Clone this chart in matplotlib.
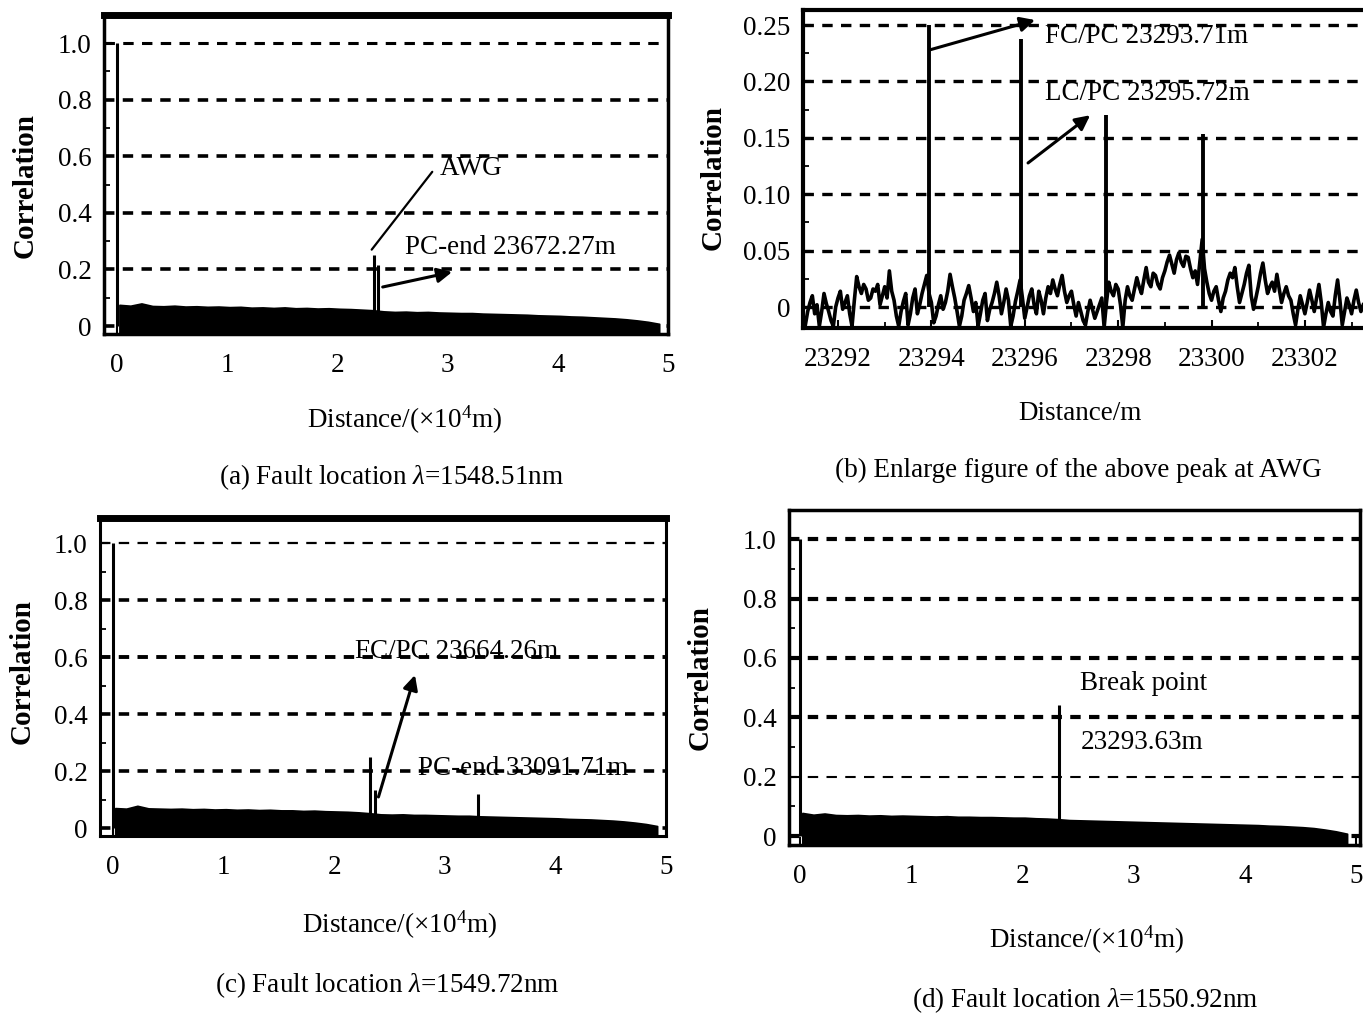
import numpy as np
import matplotlib
matplotlib.use("Agg")
import matplotlib.pyplot as plt
from matplotlib.ticker import FixedLocator, MultipleLocator, FuncFormatter

plt.rcParams['font.family'] = ['Liberation Serif', 'DejaVu Serif']
plt.rcParams['mathtext.fontset'] = 'custom'
plt.rcParams['mathtext.rm'] = 'Liberation Serif'
plt.rcParams['mathtext.it'] = 'Liberation Serif:italic'
plt.rcParams['lines.scale_dashes'] = False

# ---------------- data ----------------
# noise-floor envelope positions (x 10^4 m) for panels a, c, d
floor_x = [0.02, 0.12, 0.22, 0.32, 0.42, 0.52, 0.62, 0.72, 0.82, 0.92,
           1.02, 1.12, 1.22, 1.32, 1.42, 1.52, 1.62, 1.72, 1.82, 1.92,
           2.02, 2.12, 2.22, 2.32, 2.42, 2.52, 2.62, 2.72, 2.82, 2.92,
           3.02, 3.12, 3.22, 3.32, 3.42, 3.52, 3.62, 3.72, 3.82, 3.92,
           4.02, 4.12, 4.22, 4.32, 4.42, 4.52, 4.62, 4.72, 4.82, 4.92]
floor_a = [0.075, 0.072, 0.080, 0.071, 0.070, 0.072, 0.069, 0.070, 0.068, 0.069,
           0.067, 0.068, 0.065, 0.066, 0.064, 0.066, 0.063, 0.064, 0.062, 0.063,
           0.061, 0.060, 0.058, 0.056, 0.052, 0.050, 0.051, 0.049, 0.050, 0.048,
           0.047, 0.046, 0.046, 0.044, 0.043, 0.042, 0.041, 0.040, 0.038, 0.037,
           0.036, 0.034, 0.033, 0.031, 0.029, 0.027, 0.024, 0.020, 0.015, 0.008]
floor_c = [0.070, 0.068, 0.078, 0.069, 0.068, 0.067, 0.068, 0.066, 0.067, 0.065,
           0.066, 0.064, 0.065, 0.063, 0.064, 0.062, 0.062, 0.060, 0.061, 0.059,
           0.058, 0.057, 0.055, 0.052, 0.048, 0.047, 0.048, 0.046, 0.046, 0.045,
           0.044, 0.043, 0.043, 0.041, 0.040, 0.039, 0.038, 0.037, 0.036, 0.035,
           0.034, 0.032, 0.031, 0.030, 0.028, 0.026, 0.023, 0.019, 0.014, 0.007]
floor_d = [0.078, 0.072, 0.076, 0.071, 0.070, 0.071, 0.069, 0.070, 0.068, 0.069,
           0.068, 0.067, 0.066, 0.067, 0.065, 0.065, 0.064, 0.064, 0.063, 0.062,
           0.062, 0.060, 0.059, 0.057, 0.054, 0.053, 0.052, 0.051, 0.050, 0.049,
           0.048, 0.047, 0.046, 0.045, 0.044, 0.043, 0.042, 0.041, 0.040, 0.039,
           0.038, 0.037, 0.035, 0.034, 0.032, 0.030, 0.027, 0.022, 0.016, 0.008]

# reflection peaks (x 10^4 m, correlation)
peaks_a_x = [0.0, 2.33, 2.37]
peaks_a_y = [1.0, 0.25, 0.215]
peaks_c_x = [0.0, 2.32, 2.37, 3.30]
peaks_c_y = [1.0, 0.25, 0.135, 0.12]
peaks_d_x = [0.0, 2.33]
peaks_d_y = [1.0, 0.44]

# panel b: zoomed trace (m)
b_start = 23291.3
b_step = 0.05
b_noise = [-0.016, -0.004, 0.004, 0.010, -0.006, 0.002, -0.017, -0.004, 0.012, 0.003,
           -0.004, -0.012, -0.017, 0.000, 0.008, 0.014, -0.002, 0.004, 0.010, -0.006,
           -0.017, 0.006, 0.027, 0.018, 0.012, 0.020, 0.016, 0.006, 0.008, 0.016,
           0.014, 0.020, 0.002, 0.010, 0.018, 0.008, 0.032, 0.014, 0.006, -0.008,
           -0.017, -0.004, 0.005, 0.012, -0.016, -0.006, 0.008, 0.016, -0.006, 0.002,
           0.012, 0.020, 0.028, 0.012, 0.004, -0.014, -0.008, 0.002, 0.010, -0.002,
           0.004, 0.014, 0.029, 0.018, 0.008, -0.004, -0.017, -0.008, 0.006, 0.012,
           0.019, 0.008, -0.004, 0.004, -0.017, -0.006, 0.006, 0.012, -0.012, -0.002,
           0.004, 0.012, 0.022, 0.010, -0.006, 0.004, 0.016, 0.006, -0.017, -0.008,
           0.005, 0.014, 0.024, 0.008, -0.010, 0.000, 0.010, 0.016, 0.002, -0.006,
           0.014, 0.006, -0.006, 0.008, 0.018, 0.012, 0.024, 0.016, 0.010, 0.020,
           0.028, 0.014, 0.004, 0.010, 0.014, 0.002, -0.008, 0.004, -0.004, -0.012,
           -0.016, -0.004, 0.006, -0.002, -0.010, -0.004, 0.002, 0.008, -0.018, 0.004,
           0.022, 0.014, 0.010, 0.020, 0.016, 0.002, -0.018, 0.006, 0.018, 0.010,
           0.006, 0.016, 0.026, 0.018, 0.012, 0.024, 0.035, 0.022, 0.018, 0.030,
           0.028, 0.020, 0.016, 0.026, 0.032, 0.040, 0.046, 0.038, 0.030, 0.042,
           0.048, 0.040, 0.036, 0.045, 0.044, 0.034, 0.026, 0.032, 0.020, 0.040,
           0.060, 0.034, 0.022, 0.012, 0.006, 0.014, 0.018, 0.006, -0.004, 0.008,
           0.014, 0.024, 0.030, 0.026, 0.035, 0.018, 0.004, 0.012, 0.020, 0.030,
           0.037, 0.010, -0.002, 0.008, 0.018, 0.030, 0.039, 0.024, 0.012, 0.018,
           0.022, 0.014, 0.029, 0.016, 0.004, 0.012, 0.018, 0.010, 0.006, -0.006,
           -0.016, -0.002, 0.010, 0.002, -0.006, 0.004, 0.015, 0.006, -0.004, 0.008,
           0.020, 0.004, -0.018, -0.006, 0.004, -0.004, -0.008, 0.010, 0.024, 0.006,
           -0.016, -0.004, 0.008, 0.002, -0.006, 0.006, 0.015, 0.004, -0.004, 0.002]
peaks_b_x = [23293.95, 23295.92, 23297.73, 23299.82]
peaks_b_y = [0.25, 0.238, 0.17, 0.153]

ticks_dist = [0, 1, 2, 3, 4, 5]
ticks_corr = [0, 0.2, 0.4, 0.6, 0.8, 1.0]
ticks_b_x = [23292, 23294, 23296, 23298, 23300, 23302]
ticks_b_y = [0, 0.05, 0.10, 0.15, 0.20, 0.25]

captions = ["(a) Fault location $\\lambda$=1548.51nm",
            "(b) Enlarge figure of the above peak at AWG",
            "(c) Fault location $\\lambda$=1549.72nm",
            "(d) Fault location $\\lambda$=1550.92nm"]
xlabel_dist = "Distance/(×10$^{4}$m)"
xlabel_b = "Distance/m"
ylabel = "Correlation"

# ---------------- layout ----------------
W, H = 1363, 1016
fig = plt.figure(figsize=(W / 100, H / 100), dpi=100)
FS = 19.5
DASH = (0, (7.5, 6.0))


def rect(l, t, r, b):
    return [l / W, 1 - b / H, (r - l) / W, (b - t) / H]


def fpos(x, y):
    return (x / W, 1 - y / H)


def style(ax, spine_w, top_w, ylab_px, xlab_px, cap_px, caption, xl):
    for s in ax.spines.values():
        s.set_linewidth(spine_w)
    ax.spines['top'].set_linewidth(top_w)
    ax.tick_params(axis='both', which='major', direction='in', length=6, width=1.5,
                   labelsize=FS, pad=9)
    ax.tick_params(axis='both', which='minor', direction='in', length=4, width=1.3)
    ax.tick_params(axis='x', which='both', pad=14)
    ax.set_ylabel(ylabel, fontsize=21, fontweight='bold')
    ax.yaxis.set_label_coords(*fpos(*ylab_px), transform=fig.transFigure)
    ax.yaxis.label.set_va('center')
    ax.set_xlabel(xl, fontsize=FS)
    ax.xaxis.set_label_coords(*fpos(*xlab_px), transform=fig.transFigure)
    ax.xaxis.label.set_va('center')
    fig.text(*fpos(*cap_px), caption, ha='center', va='center', fontsize=FS)


def grid(ax, levels, widths, xr):
    for lv, w in zip(levels, widths):
        ax.plot(xr, [lv, lv], color='black', lw=w, ls=DASH, zorder=1)


def corr_fmt(v, pos):
    return "0" if abs(v) < 1e-9 else f"{v:.1f}"


def corr_fmt_b(v, pos):
    return "0" if abs(v) < 1e-9 else f"{v:.2f}"


def big_panel(r, xlim, ylim, floor, px, py, grid_w):
    ax = fig.add_axes(r)
    ax.set_xlim(*xlim)
    ax.set_ylim(*ylim)
    grid(ax, ticks_corr, grid_w, xlim)
    ax.fill_between(floor_x, ylim[0], floor, color='black', lw=1.2, zorder=3)
    ax.vlines(px, 0, py, color='black', lw=2.2, zorder=4)
    ax.xaxis.set_major_locator(FixedLocator(ticks_dist))
    ax.yaxis.set_major_locator(FixedLocator(ticks_corr))
    ax.yaxis.set_minor_locator(MultipleLocator(0.1))
    ax.yaxis.set_major_formatter(FuncFormatter(corr_fmt))
    return ax


arrow_kw = dict(arrowstyle='-|>', color='black', lw=2.2, mutation_scale=22,
                shrinkA=0, shrinkB=0)
line_kw = dict(arrowstyle='-', color='black', lw=1.6, shrinkA=0, shrinkB=0)

# ----- (a)
axa = big_panel(rect(104, 15, 668, 334), (-0.12, 5.0), (-0.028, 1.099),
                floor_a, peaks_a_x, peaks_a_y, [2.6, 2.6, 2.6, 2.6, 2.6, 2.2])
style(axa, 2.5, 5, (25, 185), (405, 420), (392, 477), captions[0], xlabel_dist)
axa.annotate('', xy=(2.86, 0.545), xytext=(2.31, 0.27), arrowprops=line_kw)
axa.text(2.93, 0.558, "AWG", fontsize=FS, ha='left', va='center')
axa.text(2.61, 0.279, "PC-end 23672.27m", fontsize=FS, ha='left', va='center')
axa.annotate('', xy=(3.04, 0.191), xytext=(2.41, 0.138), arrowprops=arrow_kw)

# ----- (b)
xb = b_start + b_step * np.arange(len(b_noise))
axb = fig.add_axes(rect(803, 10, 1367, 328))
bxlim = (23291.25, 23303.33)
bylim = (-0.0186, 0.2633)
axb.set_xlim(*bxlim)
axb.set_ylim(*bylim)
grid(axb, ticks_b_y, [2.4] * 6, bxlim)
axb.plot(xb, b_noise, color='black', lw=2.6, zorder=3)
axb.vlines(peaks_b_x, 0, peaks_b_y, color='black', lw=2.8, zorder=4)
axb.xaxis.set_major_locator(FixedLocator(ticks_b_x))
axb.xaxis.set_minor_locator(MultipleLocator(1))
axb.yaxis.set_major_locator(FixedLocator(ticks_b_y))
axb.yaxis.set_minor_locator(MultipleLocator(0.025))
axb.yaxis.set_major_formatter(FuncFormatter(corr_fmt_b))
axb.xaxis.set_major_formatter(FuncFormatter(lambda v, p: f"{v:.0f}"))
style(axb, 3, 3, (713, 178), (1080, 413), (1078, 470), captions[1], xlabel_b)
axb.annotate('', xy=(23296.22, 0.2544), xytext=(23293.97, 0.228), arrowprops=arrow_kw)
axb.text(23296.43, 0.2394, "FC/PC 23293.71m", fontsize=FS, ha='left', va='center')
axb.text(23296.43, 0.1897, "LC/PC 23295.72m", fontsize=FS, ha='left', va='center')
axb.annotate('', xy=(23297.40, 0.170), xytext=(23296.07, 0.1277), arrowprops=arrow_kw)

# ----- (c)
axc = big_panel(rect(100, 518, 666, 836), (-0.118, 5.0), (-0.028, 1.088),
                floor_c, peaks_c_x, peaks_c_y, [2.6, 2.6, 2.6, 2.8, 2.6, 1.6])
style(axc, 2.2, 5, (22, 672), (400, 925), (387, 985), captions[2], xlabel_dist)
axc.text(2.19, 0.618, "FC/PC 23664.26m", fontsize=FS, ha='left', va='center')
axc.annotate('', xy=(2.73, 0.537), xytext=(2.40, 0.109), arrowprops=arrow_kw)
axc.text(2.76, 0.21, "PC-end 33091.71m", fontsize=FS, ha='left', va='center')

# ----- (d)
axd = big_panel(rect(789, 510, 1360, 845), (-0.1, 5.036), (-0.030, 1.098),
                floor_d, peaks_d_x, peaks_d_y, [3.0, 1.5, 3.0, 3.0, 3.0, 3.0])
style(axd, 2.5, 2.5, (700, 677), (1087, 940), (1085, 1000), captions[3], xlabel_dist)
axd.text(2.52, 0.515, "Break point", fontsize=FS, ha='left', va='center')
axd.text(2.52, 0.316, "23293.63m", fontsize=FS, ha='left', va='center')

fig.savefig("out.png", dpi=100)
